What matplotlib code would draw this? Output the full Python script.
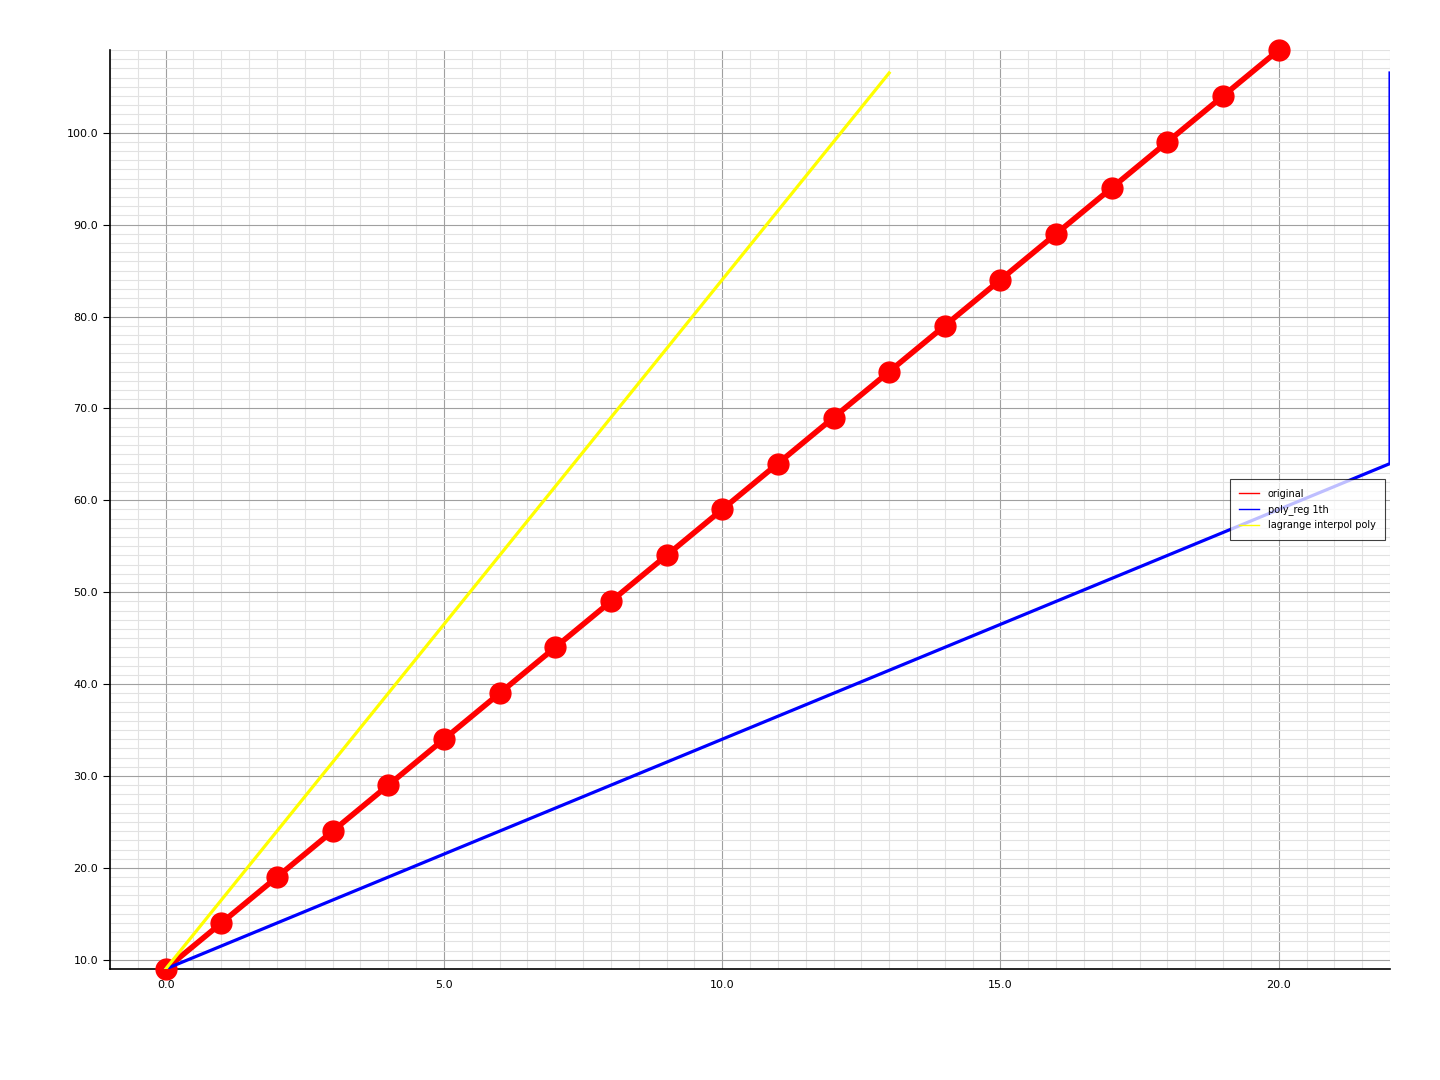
import matplotlib
matplotlib.use("Agg")
import matplotlib.pyplot as plt
from matplotlib.lines import Line2D
from matplotlib.ticker import MultipleLocator, FormatStrFormatter

# original data points
x_orig = list(range(0, 21))
y_orig = [9, 14, 19, 24, 29, 34, 39, 44, 49, 54, 59, 64, 69, 74, 79, 84, 89, 94, 99, 104, 109]

# poly_reg 1th curve (as drawn)
x_reg = [0, 3, 8, 13, 18, 22, 22]
y_reg = [9, 16.5, 29, 41.5, 54, 64, 106.5]

# lagrange interpol poly
x_lag = [0, 13]
y_lag = [9, 106.5]

fig = plt.figure(figsize=(14.4, 10.8), dpi=100)
ax = fig.add_axes([0.0764, 0.1028, 0.8889, 0.8509])

ax.plot(x_orig, y_orig, color='red', lw=4, marker='o', ms=15, zorder=3, clip_on=False)
ax.plot(x_reg, y_reg, color='blue', lw=2.3, zorder=4)
ax.plot(x_lag, y_lag, color='yellow', lw=2.3, zorder=5)

ax.set_xlim(-1, 22)
ax.set_ylim(9, 109)

ax.xaxis.set_major_locator(MultipleLocator(5))
ax.xaxis.set_minor_locator(MultipleLocator(0.5))
ax.yaxis.set_major_locator(MultipleLocator(10))
ax.yaxis.set_minor_locator(MultipleLocator(1))
ax.xaxis.set_major_formatter(FormatStrFormatter('%.1f'))
ax.yaxis.set_major_formatter(FormatStrFormatter('%.1f'))

ax.grid(which='major', color='#a0a0a0', lw=0.8)
ax.grid(which='minor', color='#e2e2e2', lw=0.8)
ax.set_axisbelow(True)

for s in ['top', 'right']:
    ax.spines[s].set_visible(False)
ax.spines['left'].set_linewidth(1.2)
ax.spines['bottom'].set_linewidth(1.2)

ax.tick_params(axis='x', which='both', length=0, pad=8, labelsize=8)
ax.tick_params(axis='y', which='major', length=5, labelsize=8)
ax.tick_params(axis='y', which='minor', length=0)

handles = [Line2D([], [], color='red', lw=1),
           Line2D([], [], color='blue', lw=1),
           Line2D([], [], color='yellow', lw=1)]
labels = ['original', 'poly_reg 1th', 'lagrange interpol poly']
leg = ax.legend(handles, labels, loc='center right', fontsize=7, fancybox=False,
                edgecolor='black', framealpha=0.75, borderaxespad=0.5,
                borderpad=1.0, labelspacing=0.55, handlelength=2.0,
                handletextpad=0.9)
leg.get_frame().set_linewidth(0.8)
leg.set_zorder(10)

fig.savefig('out.png', dpi=100)
